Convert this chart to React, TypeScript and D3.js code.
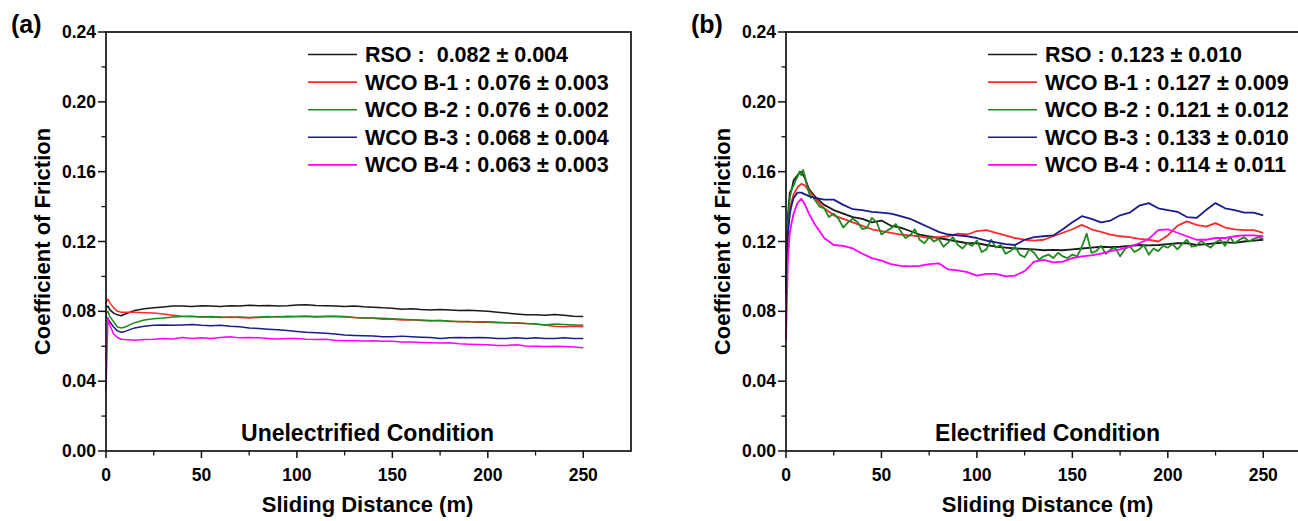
import React from "react";
import * as d3 from "d3";

// ---------- Data ----------
const seriesNames = ["RSO", "WCO B-1", "WCO B-2", "WCO B-3", "WCO B-4"];
const seriesColors = ["#1a1a1a", "#ff2a2a", "#1f8a1f", "#1c1c8c", "#ff00ff"];

const legendA = ["RSO :  0.082 ± 0.004", "WCO B-1 : 0.076 ± 0.003", "WCO B-2 : 0.076 ± 0.002", "WCO B-3 : 0.068 ± 0.004", "WCO B-4 : 0.063 ± 0.003"];
const legendB = ["RSO : 0.123 ± 0.010", "WCO B-1 : 0.127 ± 0.009", "WCO B-2 : 0.121 ± 0.012", "WCO B-3 : 0.133 ± 0.010", "WCO B-4 : 0.114 ± 0.011"];

const xTicks = [0, 50, 100, 150, 200, 250];
const yTicks = [0, 0.04, 0.08, 0.12, 0.16, 0.2, 0.24];

// Panel (a): Unelectrified
const distA = [0, 1, 2, 4, 6, 8, 10, 15, 20, 25, 30, 35, 40, 45, 50, 55, 60, 65, 70, 75, 80, 85, 90, 95, 100, 105, 110, 115, 120, 125, 130, 135, 140, 145, 150, 155, 160, 165, 170, 175, 180, 185, 190, 195, 200, 205, 210, 215, 220, 225, 230, 235, 240, 245, 250];
const rsoA = [0.082, 0.083, 0.081, 0.079, 0.078, 0.0775, 0.0785, 0.0805, 0.0815, 0.082, 0.0825, 0.083, 0.083, 0.0828, 0.0832, 0.083, 0.0828, 0.0832, 0.083, 0.0835, 0.0832, 0.0833, 0.083, 0.0832, 0.0836, 0.0838, 0.0834, 0.0832, 0.083, 0.0828, 0.083, 0.0826, 0.0824, 0.082, 0.0818, 0.0812, 0.0815, 0.081, 0.0808, 0.081, 0.0808, 0.0805, 0.0806, 0.0803, 0.08, 0.0795, 0.079, 0.0785, 0.078, 0.078, 0.0778, 0.0782, 0.0778, 0.0772, 0.077];
const b1A = [0.085, 0.087, 0.085, 0.082, 0.08, 0.0795, 0.0795, 0.0795, 0.0792, 0.079, 0.0785, 0.0778, 0.0772, 0.077, 0.0768, 0.0768, 0.0765, 0.0768, 0.0765, 0.0762, 0.0765, 0.0768, 0.077, 0.0768, 0.077, 0.0772, 0.077, 0.0772, 0.077, 0.0768, 0.0765, 0.0762, 0.076, 0.0755, 0.0755, 0.075, 0.0752, 0.0748, 0.0745, 0.0748, 0.0742, 0.074, 0.0742, 0.0738, 0.0738, 0.0735, 0.0735, 0.0735, 0.073, 0.0728, 0.0722, 0.0715, 0.0712, 0.0715, 0.0712];
const b2A = [0.079, 0.08, 0.077, 0.074, 0.071, 0.0705, 0.071, 0.0735, 0.075, 0.0758, 0.0762, 0.0768, 0.077, 0.0772, 0.0768, 0.077, 0.0768, 0.0765, 0.0768, 0.0765, 0.0768, 0.077, 0.0768, 0.0772, 0.077, 0.0772, 0.0768, 0.077, 0.0772, 0.077, 0.0765, 0.0762, 0.0762, 0.076, 0.0758, 0.0755, 0.0752, 0.075, 0.0748, 0.0748, 0.0745, 0.0742, 0.074, 0.074, 0.074, 0.0738, 0.0735, 0.0732, 0.073, 0.0728, 0.0722, 0.0728, 0.0725, 0.0722, 0.072];
const b3A = [0.077, 0.076, 0.074, 0.071, 0.0688, 0.068, 0.0685, 0.0705, 0.0715, 0.072, 0.0722, 0.072, 0.0722, 0.0725, 0.072, 0.0718, 0.072, 0.0715, 0.0712, 0.0705, 0.0702, 0.0698, 0.0695, 0.069, 0.0685, 0.068, 0.0678, 0.0675, 0.067, 0.0665, 0.0662, 0.066, 0.0658, 0.0655, 0.0655, 0.0658, 0.0655, 0.0652, 0.065, 0.0645, 0.0648, 0.065, 0.0648, 0.065, 0.0648, 0.0645, 0.0645, 0.0648, 0.0645, 0.0648, 0.0645, 0.0645, 0.0648, 0.0645, 0.0645];
const b4A = [0.035, 0.076, 0.072, 0.067, 0.065, 0.064, 0.0638, 0.0635, 0.0638, 0.064, 0.0645, 0.0642, 0.065, 0.0645, 0.0648, 0.0645, 0.065, 0.0655, 0.0648, 0.065, 0.0648, 0.0645, 0.0642, 0.0645, 0.0645, 0.064, 0.0638, 0.064, 0.0635, 0.0632, 0.0632, 0.063, 0.0632, 0.0628, 0.0628, 0.0625, 0.0625, 0.0622, 0.062, 0.0618, 0.062, 0.0615, 0.0612, 0.061, 0.0608, 0.0605, 0.0605, 0.0608, 0.0602, 0.06, 0.0598, 0.06, 0.0598, 0.0595, 0.0592];

// Panel (b): Electrified
const distB = [0, 1, 2, 3, 4, 6, 8, 10, 12, 15, 20, 25, 30, 35, 40, 45, 50, 55, 60, 65, 70, 75, 80, 85, 90, 95, 100, 105, 110, 115, 120, 125, 130, 135, 140, 145, 150, 155, 160, 165, 170, 175, 180, 185, 190, 195, 200, 205, 210, 215, 220, 225, 230, 235, 240, 245, 250];
const rsoB = [0.095, 0.135, 0.148, 0.15, 0.155, 0.158, 0.16, 0.156, 0.15, 0.146, 0.141, 0.138, 0.136, 0.134, 0.133, 0.131, 0.132, 0.129, 0.128, 0.126, 0.124, 0.123, 0.122, 0.121, 0.12, 0.119, 0.119, 0.118, 0.117, 0.1165, 0.116, 0.1158, 0.1155, 0.115, 0.1152, 0.115, 0.1155, 0.116, 0.1165, 0.117, 0.1168, 0.117, 0.1175, 0.118, 0.1178, 0.118, 0.1185, 0.119, 0.119, 0.118, 0.1185, 0.119, 0.1195, 0.1192, 0.12, 0.1205, 0.121];
const b1B = [0.09, 0.125, 0.138, 0.143, 0.147, 0.151, 0.153, 0.152, 0.149, 0.145, 0.139, 0.135, 0.133, 0.131, 0.129, 0.127, 0.126, 0.125, 0.124, 0.1235, 0.123, 0.122, 0.1225, 0.123, 0.1245, 0.124, 0.126, 0.1265, 0.125, 0.1235, 0.122, 0.121, 0.1205, 0.121, 0.123, 0.125, 0.127, 0.1295, 0.127, 0.1255, 0.124, 0.123, 0.1225, 0.1215, 0.121, 0.12, 0.1235, 0.129, 0.1315, 0.1295, 0.1285, 0.1305, 0.128, 0.127, 0.1265, 0.1265, 0.125];
const b3B = [0.09, 0.125, 0.136, 0.141, 0.145, 0.148, 0.148, 0.147, 0.146, 0.145, 0.144, 0.144, 0.141, 0.1385, 0.138, 0.137, 0.1365, 0.136, 0.1345, 0.133, 0.1305, 0.128, 0.1255, 0.124, 0.1235, 0.123, 0.122, 0.1205, 0.1195, 0.1185, 0.118, 0.121, 0.1225, 0.123, 0.1235, 0.127, 0.131, 0.1345, 0.133, 0.131, 0.132, 0.135, 0.1365, 0.1405, 0.142, 0.139, 0.138, 0.137, 0.134, 0.1335, 0.138, 0.142, 0.139, 0.138, 0.1365, 0.1365, 0.135];
const b4B = [0.064, 0.11, 0.125, 0.131, 0.136, 0.142, 0.1445, 0.141, 0.136, 0.13, 0.122, 0.118, 0.1175, 0.116, 0.113, 0.1105, 0.109, 0.107, 0.106, 0.1058, 0.106, 0.107, 0.1075, 0.104, 0.1035, 0.1025, 0.1005, 0.1015, 0.1015, 0.1, 0.1005, 0.103, 0.1085, 0.1095, 0.108, 0.1085, 0.1105, 0.1115, 0.112, 0.113, 0.1145, 0.1155, 0.117, 0.119, 0.1215, 0.1265, 0.127, 0.125, 0.123, 0.121, 0.121, 0.122, 0.122, 0.123, 0.1235, 0.1235, 0.123];
// B-2 is noisier, sampled more densely
const distBG = [0, 1, 2, 3, 4, 5, 6, 7, 8, 9, 10, 11, 12, 13, 14, 15, 17.5, 20, 22.5, 25, 27.5, 30, 32.5, 35, 37.5, 40, 42.5, 45, 47.5, 50, 52.5, 55, 57.5, 60, 62.5, 65, 67.5, 70, 72.5, 75, 77.5, 80, 82.5, 85, 87.5, 90, 92.5, 95, 97.5, 100, 102.5, 105, 107.5, 110, 112.5, 115, 117.5, 120, 122.5, 125, 127.5, 130, 132.5, 135, 137.5, 140, 142.5, 145, 147.5, 150, 152.5, 155, 157.5, 160, 162.5, 165, 167.5, 170, 172.5, 175, 177.5, 180, 182.5, 185, 187.5, 190, 192.5, 195, 197.5, 200, 202.5, 205, 207.5, 210, 212.5, 215, 217.5, 220, 222.5, 225, 227.5, 230, 232.5, 235, 237.5, 240, 242.5, 245, 247.5, 250];
const b2B = [0.095, 0.13, 0.145, 0.15, 0.152, 0.155, 0.157, 0.16, 0.158, 0.161, 0.157, 0.152, 0.148, 0.145, 0.146,
  0.144, 0.14, 0.139, 0.134, 0.136, 0.133, 0.128, 0.131, 0.133, 0.131, 0.127, 0.128, 0.1335, 0.131, 0.124, 0.126, 0.1275, 0.13, 0.126, 0.122,
  0.1235, 0.127, 0.121, 0.119, 0.1225, 0.12, 0.1215, 0.117, 0.1195, 0.1225, 0.118, 0.116, 0.119, 0.1175, 0.1205, 0.114,
  0.1155, 0.121, 0.1165, 0.118, 0.113, 0.1145, 0.117, 0.1125, 0.111, 0.1155, 0.1135, 0.1095, 0.1115, 0.1125, 0.1105, 0.1135,
  0.1115, 0.1105, 0.1125, 0.1115, 0.117, 0.1245, 0.1135, 0.1145, 0.1175, 0.113, 0.1155, 0.1165, 0.1115, 0.1155, 0.1175, 0.114,
  0.1155, 0.118, 0.1125, 0.116, 0.1145, 0.1175, 0.1165, 0.1185, 0.1155, 0.1185, 0.121, 0.117, 0.1175, 0.1205, 0.118, 0.1165,
  0.1195, 0.121, 0.1175, 0.1225, 0.119, 0.121, 0.1225, 0.12, 0.1215, 0.1225, 0.1215];

const panelA = { dists: [distA, distA, distA, distA, distA], values: [rsoA, b1A, b2A, b3A, b4A] };
const panelB = { dists: [distB, distB, distBG, distB, distB], values: [rsoB, b1B, b2B, b3B, b4B] };

const FONT = "'Liberation Sans', Arial, Helvetica, sans-serif";

function Panel({ left, letter, condition, legend, data, lineW }: any) {
  const top = 32, bottom = 451, right = left + 525;
  const x = d3.scaleLinear().domain([0, 275]).range([left, right]);
  const y = d3.scaleLinear().domain([0, 0.24]).range([bottom, top]);
  const minorX = d3.range(25, 275, 50);
  const minorY = d3.range(0.02, 0.24, 0.04);
  return (
    <g fontFamily={FONT} fontWeight="bold" fill="#000">
      <text x={left - 95} y={33} fontSize={25}>{letter}</text>
      {data.values.map((vals: number[], i: number) => {
        const ds = data.dists[i];
        const n = Math.min(ds.length, vals.length);
        const pts: [number, number][] = [];
        for (let j = 0; j < n; j++) pts.push([ds[j], vals[j]]);
        const line = d3.line<[number, number]>().x((d) => x(d[0])).y((d) => y(d[1]));
        return <path key={seriesNames[i]} d={line(pts) || ""} fill="none" stroke={seriesColors[i]} strokeWidth={lineW} strokeLinejoin="round" />;
      })}
      <rect x={left} y={top} width={right - left} height={bottom - top} fill="none" stroke="#111" strokeWidth={1.7} />
      {yTicks.map((t) => (
        <g key={t}>
          <line x1={left - 8} x2={left} y1={y(t)} y2={y(t)} stroke="#111" strokeWidth={1.5} />
          <text x={left - 10} y={y(t) + 6} textAnchor="end" fontSize={17.5}>{t.toFixed(2)}</text>
        </g>
      ))}
      {minorY.map((t) => <line key={t} x1={left - 4.5} x2={left} y1={y(t)} y2={y(t)} stroke="#111" strokeWidth={1.3} />)}
      {xTicks.map((t) => (
        <g key={t}>
          <line x1={x(t)} x2={x(t)} y1={bottom} y2={bottom + 7} stroke="#111" strokeWidth={1.5} />
          <text x={x(t)} y={bottom + 30} textAnchor="middle" fontSize={17.5}>{t}</text>
        </g>
      ))}
      {minorX.map((t) => <line key={t} x1={x(t)} x2={x(t)} y1={bottom} y2={bottom + 4.5} stroke="#111" strokeWidth={1.3} />)}
      <text x={x(137)} y={512} textAnchor="middle" fontSize={22}>Sliding Distance (m)</text>
      <text transform={`translate(${left - 56},${(top + bottom) / 2}) rotate(-90)`} textAnchor="middle" fontSize={22}>Coefficient of Friction</text>
      <text x={x(137)} y={441} textAnchor="middle" fontSize={23}>{condition}</text>
      {legend.map((s: string, i: number) => {
        const ly = 54.5 + i * 27.6;
        const lx = left + 202;
        return (
          <g key={i}>
            <line x1={lx} x2={lx + 49} y1={ly} y2={ly} stroke={seriesColors[i]} strokeWidth={1.6} />
            <text x={lx + 57} y={ly + 7.5} fontSize={21.5} style={{ whiteSpace: "pre" }}>{s}</text>
          </g>
        );
      })}
    </g>
  );
}

export default function App() {
  return (
    <svg width={1298} height={521} style={{ position: "absolute", left: 0, top: 0, background: "#fff" }}>
      <rect width={1298} height={521} fill="#fff" />
      <Panel left={106} letter="(a)" condition="Unelectrified Condition" legend={legendA} data={panelA} lineW={1.5} />
      <Panel left={786} letter="(b)" condition="Electrified Condition" legend={legendB} data={panelB} lineW={1.8} />
    </svg>
  );
}
